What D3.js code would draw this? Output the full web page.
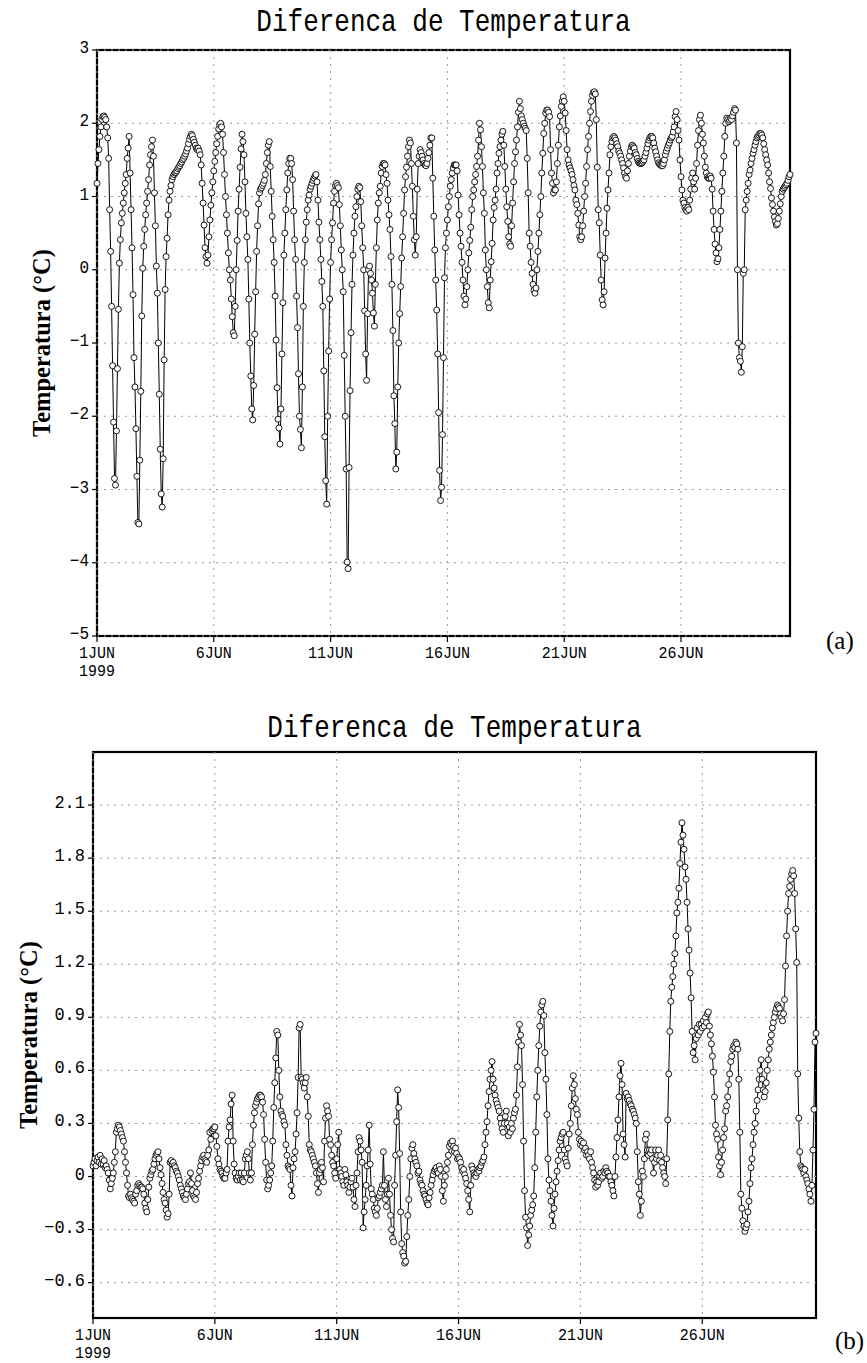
<!DOCTYPE html>
<html><head><meta charset="utf-8">
<script src="https://cdn.jsdelivr.net/npm/d3@7"></script>
<style>body{margin:0;background:#fff} svg{display:block}</style>
</head><body>
<svg id="c" width="867" height="1363"></svg>
<script>
const chartTitle = "Diferenca de Temperatura";
const yAxisTitle = "Temperatura (°C)";
const xTickLabels = ["1JUN","6JUN","11JUN","16JUN","21JUN","26JUN"];
const xTickDays = [0,5,10,15,20,25];
const xYearLabel = "1999";
const yTicksA = [3,2,1,0,-1,-2,-3,-4,-5];
const yTicksB = [2.1,1.8,1.5,1.2,0.9,0.6,0.3,0,-0.3,-0.6];
const panelTags = ["(a)","(b)"];

// hourly values from 1JUN1999 00Z, panel (a)
const diffA = [
1.18,1.45,1.64,1.82,1.95,2.05,2.09,2.10,2.08,2.05,1.95,1.80,1.52,0.82,0.25,-0.50,-1.31,-2.08,-2.85,-2.94,-2.20,-1.35,-0.54,0.09,
0.41,0.64,0.77,0.91,1.05,1.18,1.30,1.52,1.66,1.82,1.32,0.82,0.30,-0.34,-1.20,-1.60,-2.17,-2.82,-3.45,-3.47,-2.60,-1.66,-0.63,0.02,
0.32,0.55,0.75,0.91,1.07,1.23,1.43,1.57,1.68,1.77,1.55,1.05,0.60,0.05,-0.32,-1.00,-1.70,-2.45,-3.06,-3.24,-2.58,-1.23,-0.27,0.18,
0.43,0.75,0.95,1.07,1.15,1.23,1.27,1.30,1.32,1.33,1.35,1.38,1.40,1.42,1.45,1.47,1.50,1.52,1.55,1.58,1.62,1.66,1.72,1.78,
1.82,1.85,1.83,1.78,1.74,1.70,1.66,1.64,1.66,1.62,1.57,1.43,1.18,0.91,0.61,0.30,0.18,0.09,0.20,0.45,0.68,0.88,1.05,1.20,
1.35,1.48,1.60,1.72,1.82,1.92,1.98,2.00,1.95,1.85,1.60,1.30,1.00,0.75,0.50,0.23,0.00,-0.14,-0.40,-0.64,-0.86,-0.90,-0.50,0.00,
0.40,0.80,1.10,1.40,1.65,1.85,1.75,1.57,1.20,0.77,0.45,0.14,-0.40,-1.00,-1.45,-1.90,-2.05,-1.58,-0.88,-0.30,0.25,0.60,0.90,1.05,
1.10,1.12,1.15,1.18,1.22,1.30,1.45,1.60,1.70,1.75,1.41,1.07,0.73,0.41,0.10,-0.36,-0.96,-1.61,-2.04,-2.16,-2.38,-1.90,-1.15,-0.45,
0.20,0.50,0.82,1.09,1.32,1.45,1.52,1.52,1.45,1.23,0.80,0.41,0.14,-0.36,-0.79,-1.42,-2.00,-2.18,-2.43,-1.60,-0.50,0.10,0.41,0.65,
0.82,0.95,1.02,1.10,1.14,1.18,1.22,1.25,1.28,1.30,1.20,0.95,0.65,0.41,0.14,-0.16,-0.50,-1.38,-2.28,-2.88,-3.20,-2.00,-1.11,-0.40,
0.10,0.41,0.64,0.91,1.07,1.15,1.18,1.15,1.12,0.89,0.60,0.27,0.00,-0.30,-1.17,-2.00,-2.72,-3.99,-4.08,-2.70,-1.65,-0.86,-0.20,0.20,
0.50,0.73,0.86,1.00,1.10,1.14,1.12,0.93,0.60,0.30,0.00,-0.56,-1.15,-1.51,-0.60,0.00,0.05,-0.05,-0.14,-0.32,-0.59,-0.77,-0.20,0.30,
0.68,0.91,1.05,1.14,1.32,1.41,1.45,1.45,1.43,1.30,1.18,0.95,0.75,0.55,0.18,-0.20,-0.83,-1.72,-2.10,-2.72,-2.49,-1.60,-1.00,-0.60,
-0.23,0.16,0.45,0.77,1.09,1.27,1.40,1.55,1.68,1.77,1.73,1.45,1.14,0.73,0.41,0.20,0.45,1.10,1.45,1.55,1.64,1.60,1.55,1.50,
1.45,1.43,1.42,1.45,1.52,1.60,1.70,1.80,1.80,1.25,0.73,0.27,-0.14,-0.55,-1.15,-1.95,-2.74,-3.15,-2.97,-2.25,-1.20,-0.11,0.30,0.50,
0.68,0.86,1.00,1.14,1.23,1.32,1.39,1.43,1.43,1.43,1.35,1.02,0.75,0.50,0.32,0.10,-0.14,-0.36,-0.48,-0.40,-0.23,0.00,0.23,0.40,
0.58,0.82,1.00,1.09,1.20,1.30,1.41,1.55,1.77,2.00,1.91,1.68,1.41,1.05,0.77,0.27,0.00,-0.23,-0.45,-0.52,-0.14,0.11,0.36,0.68,
0.85,0.95,1.10,1.32,1.45,1.59,1.68,1.77,1.85,1.89,1.70,1.41,1.10,0.86,0.66,0.45,0.35,0.32,0.60,0.91,1.20,1.45,1.61,1.77,
1.95,2.15,2.30,2.20,2.10,2.05,2.00,1.96,1.93,1.90,1.52,1.05,0.50,0.32,0.10,-0.05,-0.20,-0.28,-0.32,-0.25,0.00,0.25,0.50,0.75,
1.00,1.32,1.59,1.86,2.00,2.14,2.18,2.18,2.15,2.09,1.64,1.32,1.18,1.05,1.09,1.09,1.20,1.45,1.70,1.95,2.10,2.23,2.30,2.36,
2.30,2.14,1.90,1.64,1.50,1.43,1.39,1.35,1.30,1.23,1.15,1.09,0.95,0.89,0.77,0.61,0.45,0.41,0.45,0.60,0.80,1.00,1.18,1.41,
1.64,1.82,2.00,2.16,2.30,2.38,2.42,2.43,2.40,2.05,1.40,0.82,0.64,0.20,-0.14,-0.41,-0.48,-0.30,0.16,0.50,0.84,1.09,1.32,1.57,
1.68,1.75,1.80,1.82,1.80,1.77,1.72,1.68,1.62,1.59,1.55,1.50,1.45,1.39,1.32,1.27,1.25,1.35,1.45,1.55,1.62,1.68,1.70,1.68,
1.66,1.60,1.57,1.52,1.48,1.46,1.45,1.45,1.46,1.48,1.50,1.55,1.60,1.66,1.72,1.77,1.80,1.82,1.82,1.80,1.73,1.66,1.61,1.55,
1.50,1.46,1.44,1.43,1.42,1.42,1.45,1.50,1.57,1.62,1.66,1.70,1.73,1.77,1.80,1.82,1.88,1.95,2.09,2.16,2.05,1.90,1.77,1.50,
1.27,1.09,0.95,0.91,0.85,0.82,0.80,0.85,0.82,0.95,1.10,1.25,1.32,1.20,1.10,1.25,1.45,1.70,1.90,2.05,2.11,2.00,1.85,1.73,
1.55,1.40,1.32,1.27,1.25,1.25,1.28,1.25,1.10,0.80,0.55,0.35,0.23,0.11,0.15,0.30,0.55,0.80,1.07,1.32,1.55,1.82,2.00,2.07,
2.05,2.02,2.04,2.07,2.05,2.10,2.15,2.20,2.18,1.73,0.00,-1.00,-1.20,-1.25,-1.40,-1.05,-0.05,0.00,0.82,0.95,1.07,1.18,1.30,1.36,
1.45,1.52,1.59,1.64,1.70,1.75,1.80,1.82,1.84,1.86,1.86,1.84,1.80,1.72,1.64,1.57,1.50,1.43,1.32,1.20,1.11,0.98,0.89,0.80,
0.72,0.66,0.61,0.63,0.70,0.80,0.90,1.00,1.07,1.10,1.12,1.14,1.16,1.18,1.22,1.27,1.30
];

// hourly values from 1JUN1999 00Z, panel (b)
const diffB = [
0.06,0.08,0.10,0.06,0.09,0.11,0.08,0.12,0.07,0.10,0.07,0.09,0.05,0.06,0.04,0.02,-0.02,-0.07,-0.04,-0.01,0.02,0.08,0.14,0.25,
0.27,0.29,0.28,0.26,0.24,0.22,0.20,0.14,0.08,0.02,-0.05,-0.11,-0.12,-0.10,-0.12,-0.13,-0.14,-0.15,-0.10,-0.08,-0.05,-0.04,-0.05,-0.06,
-0.06,-0.07,-0.10,-0.15,-0.18,-0.20,-0.13,-0.06,-0.01,0.01,0.03,0.04,0.07,0.10,0.12,0.13,0.14,0.10,0.05,0.01,-0.04,-0.09,-0.13,-0.15,
-0.19,-0.23,-0.21,-0.10,0.08,0.09,0.07,0.08,0.06,0.05,0.03,0.02,0.00,-0.02,-0.05,-0.07,-0.09,-0.11,-0.12,-0.13,-0.10,-0.07,-0.04,-0.03,
0.02,-0.04,-0.08,-0.11,-0.12,-0.13,-0.09,-0.04,-0.01,0.03,0.06,0.09,0.11,0.12,0.10,0.09,0.08,0.12,0.15,0.25,0.21,0.26,0.27,0.27,
0.28,0.23,0.17,0.10,0.07,0.04,0.03,0.02,0.00,-0.01,-0.01,0.02,0.04,0.20,0.28,0.32,0.41,0.46,0.20,0.07,0.02,-0.01,-0.02,0.00,
0.02,-0.02,0.02,-0.02,-0.03,0.02,0.10,0.12,0.14,0.10,0.02,-0.02,0.02,0.18,0.29,0.36,0.40,0.42,0.44,0.45,0.46,0.46,0.45,0.42,
0.35,0.21,0.08,-0.02,-0.07,-0.05,-0.02,0.02,0.06,0.20,0.39,0.53,0.67,0.82,0.80,0.60,0.45,0.37,0.35,0.34,0.31,0.29,0.18,0.12,
0.06,0.05,0.04,-0.05,-0.11,0.05,0.10,0.14,0.24,0.36,0.56,0.84,0.86,0.56,0.55,0.53,0.50,0.53,0.56,0.45,0.34,0.18,0.15,0.14,
0.12,0.10,0.08,0.06,0.02,-0.04,-0.09,0.02,0.04,0.08,0.05,-0.03,0.20,0.33,0.40,0.37,0.34,0.21,0.18,0.12,0.08,0.06,0.02,-0.01,
0.10,0.18,0.25,0.04,0.02,0.00,-0.03,-0.05,0.04,0.01,-0.03,-0.05,-0.09,-0.06,-0.03,-0.01,-0.06,-0.13,-0.17,-0.05,0.02,0.14,0.22,0.20,
0.15,0.08,-0.29,-0.20,-0.13,-0.05,0.06,0.15,0.29,0.07,-0.07,-0.10,-0.13,-0.18,-0.20,-0.22,-0.18,-0.12,-0.11,-0.09,-0.07,-0.05,0.14,-0.05,
-0.13,-0.17,-0.10,-0.01,-0.10,-0.22,-0.30,-0.35,-0.37,-0.05,0.12,0.31,0.49,0.39,0.13,-0.20,-0.38,-0.43,-0.45,-0.49,-0.48,-0.34,-0.22,-0.13,
0.00,0.10,0.16,0.18,0.13,0.10,0.08,0.06,0.02,0.03,-0.02,-0.04,-0.05,-0.08,-0.10,-0.11,-0.13,-0.15,-0.16,-0.12,-0.09,-0.05,-0.02,0.01,
0.03,0.04,0.05,0.03,0.02,0.06,0.04,0.00,-0.08,-0.14,-0.05,0.00,0.04,0.08,0.12,0.17,0.19,0.18,0.20,0.17,0.14,0.16,0.13,0.10,
0.11,0.10,0.08,0.05,0.03,0.04,0.01,-0.01,-0.04,-0.08,-0.13,-0.20,-0.05,0.06,0.04,0.02,0.01,0.00,0.02,0.04,0.03,0.05,0.06,0.08,
0.09,0.11,0.18,0.25,0.31,0.40,0.48,0.55,0.60,0.65,0.55,0.50,0.46,0.43,0.41,0.39,0.37,0.33,0.30,0.27,0.25,0.30,0.34,0.37,
0.30,0.23,0.28,0.25,0.30,0.27,0.33,0.36,0.38,0.46,0.62,0.76,0.86,0.80,0.74,0.52,0.20,-0.08,-0.23,-0.29,-0.39,-0.33,-0.28,-0.22,
-0.19,-0.16,-0.11,0.05,0.25,0.45,0.60,0.74,0.85,0.93,0.97,0.99,0.91,0.70,0.55,0.35,0.10,-0.02,-0.08,-0.14,-0.22,-0.28,-0.18,-0.10,
-0.03,0.03,0.09,0.15,0.20,0.22,0.24,0.25,0.15,0.10,0.08,0.06,0.16,0.24,0.30,0.40,0.50,0.57,0.52,0.44,0.38,0.35,0.25,0.21,
0.18,0.20,0.17,0.19,0.15,0.16,0.12,0.14,0.12,0.10,0.14,0.08,0.05,0.02,-0.02,-0.06,-0.03,-0.05,-0.03,0.00,0.02,-0.01,0.00,0.03,
0.02,0.05,0.03,0.02,0.00,0.00,-0.03,-0.05,-0.08,-0.11,0.00,0.11,0.22,0.32,0.45,0.57,0.64,0.52,0.24,0.18,0.11,0.47,0.44,0.45,
0.43,0.41,0.40,0.38,0.37,0.35,0.33,0.30,0.14,-0.03,-0.10,-0.22,-0.14,0.03,0.00,0.10,0.21,0.24,0.15,0.12,0.15,0.13,0.15,0.10,
0.02,0.08,0.15,0.10,0.12,0.15,0.09,0.12,0.08,0.05,0.02,0.00,-0.04,0.10,0.32,0.58,0.82,0.99,1.07,1.13,1.20,1.26,1.36,1.49,
1.55,1.63,1.77,1.89,2.00,1.93,1.85,1.75,1.68,1.55,1.40,1.28,1.15,1.01,0.82,0.70,0.74,0.66,0.78,0.84,0.80,0.86,0.82,0.86,
0.84,0.88,0.85,0.90,0.87,0.92,0.93,0.85,0.80,0.75,0.68,0.59,0.45,0.29,0.24,0.21,0.11,0.06,0.01,0.08,0.15,0.22,0.27,0.37,
0.40,0.45,0.52,0.58,0.65,0.68,0.72,0.74,0.73,0.76,0.75,0.72,0.55,0.25,-0.10,-0.18,-0.25,-0.28,-0.31,-0.29,-0.27,-0.20,-0.14,-0.04,
0.05,0.10,0.18,0.25,0.30,0.37,0.43,0.49,0.55,0.60,0.66,0.55,0.49,0.45,0.48,0.53,0.60,0.66,0.72,0.76,0.80,0.84,0.87,0.90,
0.93,0.95,0.97,0.96,0.95,0.92,0.90,0.88,0.92,1.00,1.19,1.36,1.50,1.60,1.64,1.68,1.71,1.73,1.70,1.60,1.40,1.21,0.58,0.33,
0.14,0.06,0.05,0.04,0.02,0.04,0.00,-0.02,-0.04,-0.07,-0.10,-0.14,-0.05,0.15,0.38,0.76,0.81
];

const svg = d3.select("#c");
const t0 = Date.UTC(1999, 5, 1);
const HOUR = 3600000;
const DAY = 24 * HOUR;
const MONO = "'Liberation Mono', 'DejaVu Sans Mono', monospace";
const SERIF = "'Liberation Serif', 'Times New Roman', serif";

function gtext(g, str, x, y, opts) {
  const sx = opts.sx || 1, sy = opts.sy || 1;
  return g.append("text")
    .attr("transform", `translate(${x},${y}) scale(${sx},${sy})`)
    .attr("text-anchor", opts.anchor || "middle")
    .attr("font-family", opts.family || MONO)
    .attr("font-size", opts.size)
    .attr("font-weight", opts.weight || "normal")
    .attr("fill", "#000")
    .text(str);
}

function drawPanel(cfg) {
  const g = svg.append("g");
  const x = d3.scaleUtc().domain([new Date(t0), new Date(t0 + (cfg.data.length - 1) * HOUR)]).range([cfg.left, cfg.right]);
  const y = d3.scaleLinear().domain(cfg.ydom).range([cfg.bottom, cfg.top]);
  const pts = cfg.data.map((v, i) => ({ t: new Date(t0 + i * HOUR), v }));
  const xTickDates = xTickDays.map(d => new Date(t0 + d * DAY));

  // frame
  g.append("rect").attr("x", cfg.left).attr("y", cfg.top)
    .attr("width", cfg.right - cfg.left).attr("height", cfg.bottom - cfg.top)
    .attr("fill", "none").attr("stroke", "#000").attr("stroke-width", 2.2);

  // dotted grid, drawn over the frame as in the original
  const grid = g.append("g").attr("stroke", "#9a9a9a").attr("stroke-width", 1).attr("stroke-dasharray", "2,5");
  cfg.yticks.forEach(v => {
    grid.append("line").attr("x1", cfg.left).attr("x2", cfg.right).attr("y1", y(v)).attr("y2", y(v));
  });
  xTickDates.forEach(d => {
    grid.append("line").attr("x1", x(d)).attr("x2", x(d)).attr("y1", cfg.top).attr("y2", cfg.bottom);
  });

  // y ticks + labels
  cfg.yticks.forEach(v => {
    g.append("line").attr("x1", cfg.left - 5).attr("x2", cfg.left).attr("y1", y(v)).attr("y2", y(v))
      .attr("stroke", "#000").attr("stroke-width", 1.2);
    gtext(g, cfg.fmt(v), cfg.left - 8, y(v) + 3, { anchor: "end", size: cfg.ySize, sy: 1.12 });
  });
  // x ticks + labels
  xTickDates.forEach((d, i) => {
    g.append("line").attr("x1", x(d)).attr("x2", x(d)).attr("y1", cfg.bottom).attr("y2", cfg.bottom + 6)
      .attr("stroke", "#000").attr("stroke-width", 1.2);
    gtext(g, xTickLabels[i], x(d), cfg.bottom + 21.5, { size: 15, sy: 1.08 });
  });
  gtext(g, xYearLabel, x(xTickDates[0]), cfg.bottom + 39.5, { size: 15, sy: 1.08 });

  // title
  gtext(g, chartTitle, (cfg.left + cfg.right) / 2, cfg.titleY, { size: 26, sy: 1.18 });
  // y axis title
  g.append("text")
    .attr("transform", `translate(${cfg.ylabX},${(cfg.top + cfg.bottom) / 2}) rotate(-90)`)
    .attr("text-anchor", "middle").attr("font-family", SERIF).attr("font-weight", "bold")
    .attr("font-size", 24.5).attr("fill", "#000").text(yAxisTitle);
  // panel tag
  gtext(g, cfg.tag, cfg.tagX, cfg.tagY, { anchor: "start", family: SERIF, size: 25 });

  // series: line, then open circle markers
  const line = d3.line().x(d => x(d.t)).y(d => y(d.v));
  g.append("path").datum(pts).attr("d", line).attr("fill", "none").attr("stroke", "#000").attr("stroke-width", 1);
  g.append("g").selectAll("circle").data(pts).join("circle")
    .attr("cx", d => x(d.t)).attr("cy", d => y(d.v)).attr("r", 3)
    .attr("fill", "#fff").attr("stroke", "#000").attr("stroke-width", 0.9);
}

drawPanel({ data: diffA, left: 97, right: 790, top: 50, bottom: 636, ydom: [-5, 3], yticks: yTicksA,
  fmt: d3.format("d"), ySize: 16, titleY: 31, ylabX: 50, tag: panelTags[0], tagX: 826, tagY: 649 });
drawPanel({ data: diffB, left: 93, right: 816, top: 752, bottom: 1318, ydom: [-0.8, 2.4], yticks: yTicksB,
  fmt: v => v === 0 ? "0" : d3.format(".1f")(v), ySize: 17, titleY: 737, ylabX: 37, tag: panelTags[1], tagX: 835, tagY: 1349 });
</script>
</body></html>
